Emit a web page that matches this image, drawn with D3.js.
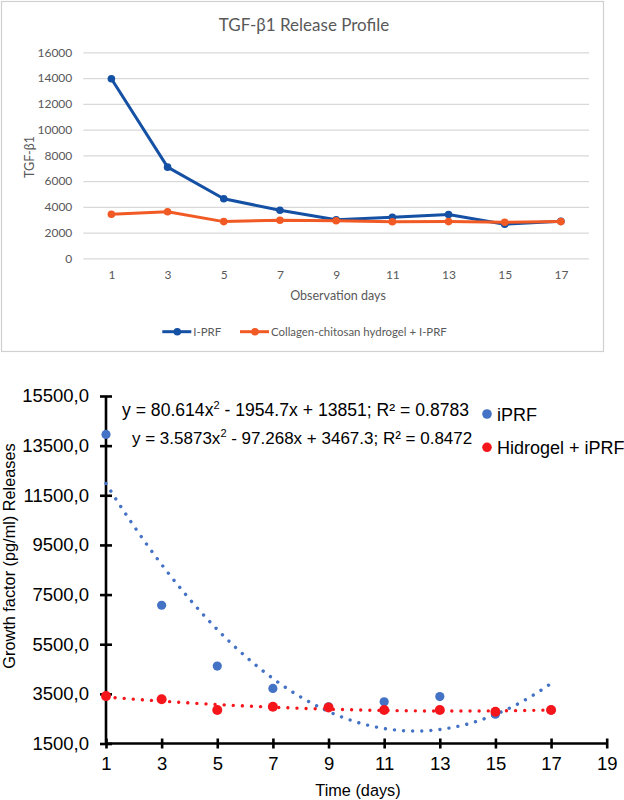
<!DOCTYPE html>
<html><head><meta charset="utf-8">
<script src="https://cdn.jsdelivr.net/npm/d3@7"></script>
<style>body{margin:0;background:#fff}svg{display:block}</style>
</head><body><svg id="c" width="624" height="800"></svg>
<script>
// ---------- data ----------
const days = [1, 3, 5, 7, 9, 11, 13, 15, 17];
const topIPRF = [13950, 7080, 4620, 3730, 3000, 3180, 3400, 2650, 2870];
const topHydrogel = [3420, 3620, 2850, 2960, 2920, 2840, 2850, 2800, 2850];
const topYTicks = [0, 2000, 4000, 6000, 8000, 10000, 12000, 14000, 16000];
const topTitle = "TGF-β1 Release Profile";
const topXTitle = "Observation days";
const topYTitle = "TGF-β1";
const topLegend = ["I-PRF", "Collagen-chitosan hydrogel + I-PRF"];

const botIPRF = [13950, 7070, 4620, 3720, 2980, 3180, 3390, 2680, 2850];
const botHydrogel = [3410, 3280, 2850, 2980, 2950, 2850, 2850, 2780, 2850];
const botYTicks = [1500, 3500, 5500, 7500, 9500, 11500, 13500, 15500];
const botXTicks = [1, 3, 5, 7, 9, 11, 13, 15, 17, 19];
const trendIPRF = [80.614, -1954.7, 13851];      // a, b, c of y = ax^2 + bx + c
const trendHydrogel = [3.5873, -97.268, 3467.3];
const eqIPRF = ["y = 80.614x", "2", " - 1954.7x + 13851; R² = 0.8783"];
const eqHydrogel = ["y = 3.5873x", "2", " - 97.268x + 3467.3; R² = 0.8472"];
const botLegend = ["iPRF", "Hidrogel + iPRF"];
const botXTitle = "Time (days)";
const botYTitle = "Growth factor (pg/ml) Releases";

// ---------- drawing ----------
const svg = d3.select("#c");
const grey = "#595959";
const topFont = "Lato, 'Open Sans', sans-serif";
const armFont = "'Liberation Sans', Arial, sans-serif";

// ===== top chart =====
const g1 = svg.append("g");
g1.append("rect").attr("x", 1.5).attr("y", 1.5).attr("width", 602).attr("height", 350)
  .attr("fill", "#fff").attr("stroke", "#d0d0d0").attr("stroke-width", 1.2);

const x1 = d3.scalePoint().domain(days).range([83.3, 589]).padding(0.5);
const y1 = d3.scaleLinear().domain([0, 16000]).range([258.3, 52.3]);

g1.append("text").attr("x", 304).attr("y", 31).attr("text-anchor", "middle")
  .attr("font-family", topFont).attr("font-size", 17).attr("fill", grey).text(topTitle);

const ya1 = g1.append("g").attr("transform", "translate(83.3,0)")
  .call(d3.axisLeft(y1).tickValues(topYTicks).tickSize(-505.7).tickPadding(11).tickFormat(d3.format("d")));
ya1.select(".domain").remove();
ya1.selectAll(".tick line").attr("stroke", "#d9d9d9").attr("stroke-width", 1.2);
ya1.selectAll(".tick text").attr("font-family", topFont).attr("font-size", 12).attr("fill", grey);

const xa1 = g1.append("g").attr("transform", "translate(0,258.3)")
  .call(d3.axisBottom(x1).tickSize(0).tickPadding(12));
xa1.select(".domain").remove();
xa1.selectAll(".tick text").attr("font-family", topFont).attr("font-size", 12).attr("fill", grey);

g1.append("text").attr("x", 338).attr("y", 300).attr("text-anchor", "middle")
  .attr("font-family", topFont).attr("font-size", 12.5).attr("fill", grey).text(topXTitle);
g1.append("text").attr("transform", "translate(33.5,157) rotate(-90)").attr("text-anchor", "middle")
  .attr("font-family", topFont).attr("font-size", 12.5).attr("fill", grey).text(topYTitle);

const topSeries = [
  { vals: topIPRF, color: "#1450a3" },
  { vals: topHydrogel, color: "#f15a24" }
];
const line1 = d3.line().x(d => x1(d[0])).y(d => y1(d[1]));
topSeries.forEach(s => {
  const pts = days.map((d, i) => [d, s.vals[i]]);
  g1.append("path").attr("d", line1(pts)).attr("fill", "none").attr("stroke", s.color)
    .attr("stroke-width", 3).attr("stroke-linejoin", "round");
  g1.selectAll(null).data(pts).enter().append("circle")
    .attr("cx", d => x1(d[0])).attr("cy", d => y1(d[1])).attr("r", 3.8).attr("fill", s.color);
});

// legend
const legX = [162.3, 240];
topLegend.forEach((t, i) => {
  const c = topSeries[i].color;
  g1.append("line").attr("x1", legX[i]).attr("x2", legX[i] + 29).attr("y1", 331.7).attr("y2", 331.7)
    .attr("stroke", c).attr("stroke-width", 3);
  g1.append("circle").attr("cx", legX[i] + 15).attr("cy", 331.7).attr("r", 3.8).attr("fill", c);
  g1.append("text").attr("x", legX[i] + 31).attr("y", 336).attr("font-family", topFont)
    .attr("font-size", 11.4).attr("fill", grey).text(t);
});

// ===== bottom chart =====
const g2 = svg.append("g");
const x2 = d3.scaleLinear().domain([1, 19]).range([106, 606.7]);
const y2 = d3.scaleLinear().domain([1500, 15500]).range([743.5, 396]);

const ya2 = g2.append("g").attr("transform", "translate(106,0)")
  .call(d3.axisLeft(y2).tickValues(botYTicks).tickSizeOuter(0).tickSize(6).tickPadding(11)
    .tickFormat(d => d3.format(".1f")(d).replace(".", ",")));
ya2.selectAll(".tick line").attr("x1", 6);
const xa2 = g2.append("g").attr("transform", "translate(0,743.5)")
  .call(d3.axisBottom(x2).tickValues(botXTicks).tickSizeOuter(0).tickSize(5).tickPadding(8).tickFormat(d3.format("d")));
xa2.selectAll(".tick line").attr("y1", -5);
[ya2, xa2].forEach(a => {
  a.select(".domain").attr("stroke", "#000").attr("stroke-width", 2.6);
  a.selectAll(".tick line").attr("stroke", "#000").attr("stroke-width", 2.6);
  a.selectAll(".tick text").attr("font-family", armFont).attr("font-size", 18.5).attr("fill", "#000");
});
ya2.select(".domain").attr("d", `M0,${y2(15500)}V${y2(1500)}`);
xa2.select(".domain").attr("d", `M${x2(1)},0H${x2(19)}`);

g2.append("text").attr("x", 358).attr("y", 796).attr("text-anchor", "middle")
  .attr("font-family", armFont).attr("font-size", 16.3).attr("fill", "#000").text(botXTitle);
g2.append("text").attr("transform", "translate(15,556) rotate(-90)").attr("text-anchor", "middle")
  .attr("font-family", armFont).attr("font-size", 16.3).attr("fill", "#000").text(botYTitle);

const blue = "#4472c4", red = "#f5161c";
const trendX = d3.range(1, 17.0001, 0.05);
const trendLine = d3.line().x(d => x2(d[0])).y(d => y2(d[1]));
const trends = [
  { coef: trendHydrogel, color: red },
  { coef: trendIPRF, color: blue }
];
trends.forEach(t => {
  const pts = trendX.map(x => [x, t.coef[0] * x * x + t.coef[1] * x + t.coef[2]]);
  g2.append("path").attr("d", trendLine(pts)).attr("fill", "none").attr("stroke", t.color)
    .attr("stroke-width", 3.4).attr("stroke-linecap", "round").attr("stroke-dasharray", "0.01 9.1");
});

const botSeries = [
  { vals: botIPRF, color: blue, r: 4.6 },
  { vals: botHydrogel, color: red, r: 5 }
];
botSeries.forEach(s => {
  g2.selectAll(null).data(days.map((d, i) => [d, s.vals[i]])).enter().append("circle")
    .attr("cx", d => x2(d[0])).attr("cy", d => y2(d[1])).attr("r", s.r).attr("fill", s.color);
});

// equations
[[eqIPRF, 122, 416, 17.6], [eqHydrogel, 132, 444, 17.0]].forEach(([eq, x, y, fs]) => {
  const t = g2.append("text").attr("x", x).attr("y", y).attr("font-family", armFont)
    .attr("font-size", fs).attr("fill", "#000");
  t.append("tspan").text(eq[0]);
  t.append("tspan").attr("dy", -7).attr("font-size", 11).text(eq[1]);
  t.append("tspan").attr("dy", 7).text(eq[2]);
});

// legend
botLegend.forEach((t, i) => {
  const y = [414, 447.3][i];
  g2.append("circle").attr("cx", 487).attr("cy", y).attr("r", 4.8).attr("fill", botSeries[i].color);
  g2.append("text").attr("x", 497).attr("y", y + 7).attr("font-family", armFont)
    .attr("font-size", 18).attr("fill", "#000").text(t);
});
</script>
</body></html>
